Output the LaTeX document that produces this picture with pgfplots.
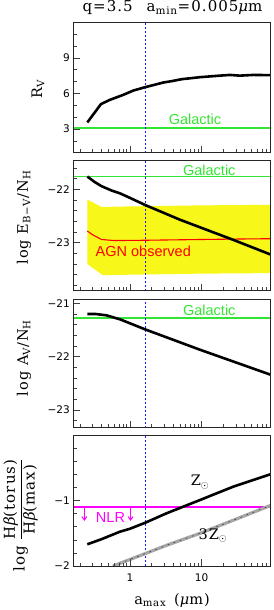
\documentclass[border=0pt]{standalone}
\usepackage{pgfplots}
\pgfplotsset{compat=1.18}
\usepackage{fontspec}
\usetikzlibrary{arrows.meta}
\newfontfamily\sansf{Liberation Sans}
\newfontfamily\tickf{DejaVu Sans}
\newfontfamily\serf[LetterSpace=7]{DejaVu Serif}
\definecolor{ggreen}{rgb}{0.2,0.9,0.2}
\definecolor{yel}{rgb}{0.97,0.97,0.1}
\definecolor{mag}{rgb}{1,0,1}
\definecolor{dblue}{rgb}{0.1,0.1,1}
\newcommand{\annf}{\sansf\fontsize{14.5}{16}\selectfont}
\newcommand{\labf}{\serf\fontsize{14.5}{16}\selectfont}
\newcommand{\tickfont}{\tickf\fontsize{10.5}{12}\selectfont}
\tikzset{
  vline/.style={dblue, line width=0.8pt, dash pattern=on 2pt off 2pt},
  thickk/.style={black, line width=2.6pt},
}
\newcommand{\beginpanel}[1]{\begin{axis}[
    scale only axis, width=197.4pt,
    xmode=log, xmin=0.162, xmax=92,
    axis on top,
    axis line style={line width=0.8pt, black!85},
    tick align=inside, tick pos=left,
    major tick length=7pt, minor tick length=3.5pt,
    tick style={black!75, line width=0.6pt},
    xtick={1,10}, xticklabels={},
    minor xtick={0.2,0.3,0.4,0.5,0.6,0.7,0.8,0.9,2,3,4,5,6,7,8,9,20,30,40,50,60,70,80,90},
    ticklabel style={font=\tickfont},
    xticklabel style={yshift=-4pt},
    ylabel style={font=\labf, anchor=center},
    anchor=north west,
    #1]}
\begin{document}
\begin{tikzpicture}
\useasboundingbox (0,0) rectangle (273pt,-610pt);
% ---------------- panel 1
\beginpanel{at={(73.3pt,-22.3pt)}, height=130.4pt,
  ymin=1, ymax=12, ytick={3,6,9}, yticklabels={3,6,9},
  minor ytick={2,4,5,7,8,10,11},
  ylabel={R\textsubscript{V}},
  ylabel style={at={(axis description cs:-0.179,0.49)}},
  title={q=3.5\hspace{14pt}a\textsubscript{min}=0.005{\itshape μ}m},
  title style={font=\serf\fontsize{15}{17}\selectfont, at={(axis description cs:0.5025,1)}, anchor=base, yshift=4.3pt},
}
\addplot[ggreen, line width=1.4pt] coordinates {(0.1,3.1) (100,3.1)};
\addplot[vline] coordinates {(1.66,1) (1.66,12)};
\addplot[thickk] coordinates {
(0.254,3.55) (0.394,5.10) (0.526,5.46) (0.807,5.88) (1.11,6.24) (1.64,6.53)
(2.92,6.92) (4.02,7.06) (5.26,7.20) (9.47,7.37) (16.2,7.48) (24.8,7.56)
(34.2,7.50) (52.5,7.56) (95,7.54)};
\node[font=\annf, text=ggreen, anchor=base] at (axis cs:8.07,3.35) {Galactic};
\end{axis}
% ---------------- panel 2
\beginpanel{at={(73.3pt,-160pt)}, height=130.7pt,
  ymin=-23.9, ymax=-21.45, ytick={-23,-22}, yticklabels={−23,−22},
  minor ytick={-23.8,-23.6,-23.4,-23.2,-22.8,-22.6,-22.4,-22.2,-21.8,-21.6},
  ylabel={log E\textsubscript{B−V}/N\textsubscript{H}},
  ylabel style={at={(axis description cs:-0.25,0.56)}},
}
\addplot[fill=yel, draw=none] coordinates {
(0.254,-22.19) (0.40,-22.33) (1,-22.32) (10,-22.30) (95,-22.29)
(95,-23.57) (10,-23.58) (1,-23.6) (0.42,-23.61) (0.254,-23.40)} -- cycle;
\addplot[red, line width=1.1pt] coordinates {
(0.254,-22.78) (0.30,-22.85) (0.40,-22.94) (0.6,-22.96) (1.5,-22.955) (10,-22.94) (40,-22.93) (95,-22.925)};
\addplot[ggreen, line width=1.4pt] coordinates {(0.1,-21.76) (100,-21.76)};
\addplot[vline] coordinates {(1.66,-23.9) (1.66,-21.45)};
\addplot[thickk] coordinates {
(0.254,-21.76) (0.32,-21.86) (0.40,-21.94) (0.55,-22.02) (0.725,-22.075) (1.0,-22.16)
(1.64,-22.295) (5,-22.57) (28,-22.95) (95,-23.23)};
\node[font=\annf, text=ggreen, anchor=base] at (axis cs:12.8,-21.735) {Galactic};
\node[font=\annf, text=red, anchor=base] at (axis cs:1.535,-23.25) {AGN observed};
\end{axis}
% ---------------- panel 3
\beginpanel{at={(73.3pt,-299.3pt)}, height=128.4pt,
  ymin=-23.33, ymax=-20.925, ytick={-23,-22,-21}, yticklabels={−23,−22,−21},
  minor ytick={-23.2,-22.8,-22.6,-22.4,-22.2,-21.8,-21.6,-21.4,-21.2},
  ylabel={log A\textsubscript{V}/N\textsubscript{H}},
  ylabel style={at={(axis description cs:-0.25,0.543)}},
}
\addplot[ggreen, line width=1.4pt] coordinates {(0.1,-21.275) (100,-21.275)};
\addplot[vline] coordinates {(1.66,-23.33) (1.66,-20.925)};
\addplot[thickk] coordinates {
(0.254,-21.20) (0.33,-21.20) (0.47,-21.225) (0.725,-21.30) (1.0,-21.375)
(1.64,-21.49) (9.5,-21.87) (95,-22.345)};
\node[font=\annf, text=ggreen, anchor=base] at (axis cs:12.8,-21.233) {Galactic};
\end{axis}
% ---------------- panel 4
\beginpanel{at={(73.3pt,-435.3pt)}, height=130.7pt,
  ymin=-2, ymax=0, ytick={-2,-1}, yticklabels={−2,−1},
  minor ytick={-1.8,-1.6,-1.4,-1.2,-0.8,-0.6,-0.4,-0.2},
  xticklabels={1,10},
  ylabel={log $\displaystyle\frac{\mbox{H{\itshape β}(torus)}}{\mbox{H{\itshape β}(max)}}$},
  ylabel style={font=\serf\fontsize{15}{17}\selectfont, at={(axis description cs:-0.267,0.39)}},
  xlabel={a\textsubscript{max}\hspace{8pt}({\itshape μ}m)},
  xlabel style={font=\serf\fontsize{14.5}{16}\selectfont, at={(axis description cs:0.5,0)}, anchor=base, yshift=-38pt},
}
\addplot[mag, line width=1.3pt] coordinates {(0.1,-1.097) (100,-1.097)};
\addplot[mag, line width=1pt, -{Straight Barb[length=3.5pt,width=5pt]}] coordinates {(0.231,-1.097) (0.231,-1.31)};
\addplot[mag, line width=1pt, -{Straight Barb[length=3.5pt,width=5pt]}] coordinates {(1.02,-1.097) (1.02,-1.31)};
\addplot[vline] coordinates {(1.66,-2) (1.66,0)};
\addplot[black!35, line width=3.2pt] coordinates {
(0.58,-2.0) (1.0,-1.90) (1.67,-1.806) (3.25,-1.683) (9.5,-1.50) (27.6,-1.30) (95,-1.066)};
\addplot[black!80, line width=0.6pt, dash pattern=on 1.5pt off 5pt] coordinates {
(0.58,-2.0) (1.0,-1.90) (1.67,-1.806) (3.25,-1.683) (9.5,-1.50) (27.6,-1.30) (95,-1.066)};
\addplot[thickk] coordinates {
(0.254,-1.668) (0.4,-1.59) (0.725,-1.475) (1.0,-1.43) (1.64,-1.337) (3.25,-1.193)
(9.5,-0.99) (27.6,-0.786) (95,-0.59)};
\node[font=\annf, text=mag, anchor=base] at (axis cs:0.535,-1.337) {NLR};
\node[font=\labf, anchor=base] at (axis cs:9.47,-0.775) {Z$_\odot$};
\node[font=\labf, anchor=base] at (axis cs:14.4,-1.59) {3Z$_\odot$};
\end{axis}
\end{tikzpicture}
\end{document}
